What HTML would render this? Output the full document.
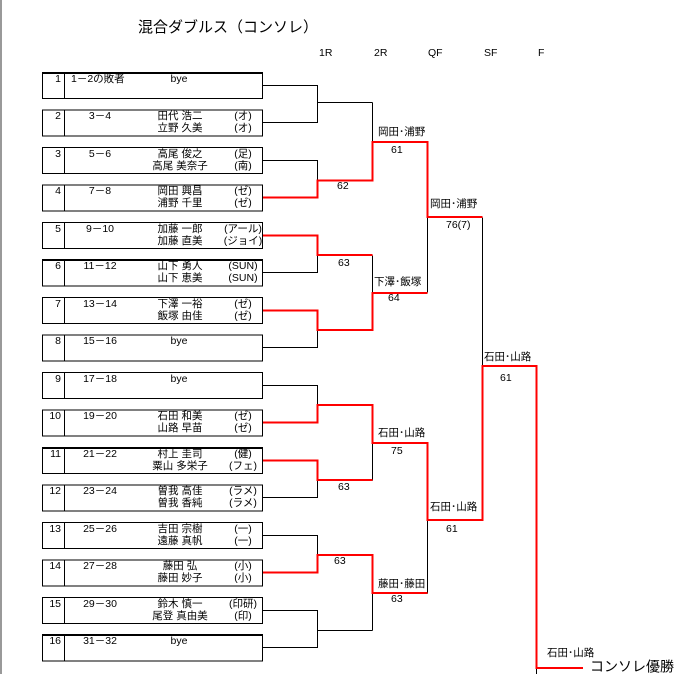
<!DOCTYPE html>
<html><head><meta charset="utf-8"><style>
html,body{margin:0;padding:0;background:#fff;}
svg{display:block;font-family:"Liberation Sans","Noto Sans CJK JP",sans-serif;}
text{font-size:10.5px;fill:#000;dominant-baseline:middle;}
.n{text-anchor:end}.m{text-anchor:middle}
</style></head><body>
<svg width="691" height="674" viewBox="0 0 691 674" xmlns="http://www.w3.org/2000/svg">
<rect x="0" y="0" width="2" height="674" fill="#999"/>
<text x="138" y="28" style="font-size:15px">混合ダブルス（コンソレ）</text>
<text x="319" y="53">1R</text><text x="374" y="53">2R</text><text x="428" y="53">QF</text><text x="484" y="53">SF</text><text x="538" y="53">F</text>

<g fill="none" stroke="#000" stroke-width="1">
<g id="boxes">
<rect x="42.5" y="72.5" width="220" height="26"/><line x1="64.5" y1="72.5" x2="64.5" y2="98.5"/>
<rect x="42.5" y="110" width="220" height="26"/><line x1="64.5" y1="110" x2="64.5" y2="136"/>
<rect x="42.5" y="147.5" width="220" height="26"/><line x1="64.5" y1="147.5" x2="64.5" y2="173.5"/>
<rect x="42.5" y="185" width="220" height="26"/><line x1="64.5" y1="185" x2="64.5" y2="211"/>
<rect x="42.5" y="222.5" width="220" height="26"/><line x1="64.5" y1="222.5" x2="64.5" y2="248.5"/>
<rect x="42.5" y="260" width="220" height="26"/><line x1="64.5" y1="260" x2="64.5" y2="286"/>
<rect x="42.5" y="297.5" width="220" height="26"/><line x1="64.5" y1="297.5" x2="64.5" y2="323.5"/>
<rect x="42.5" y="335" width="220" height="26"/><line x1="64.5" y1="335" x2="64.5" y2="361"/>
<rect x="42.5" y="372.5" width="220" height="26"/><line x1="64.5" y1="372.5" x2="64.5" y2="398.5"/>
<rect x="42.5" y="410" width="220" height="26"/><line x1="64.5" y1="410" x2="64.5" y2="436"/>
<rect x="42.5" y="447.5" width="220" height="26"/><line x1="64.5" y1="447.5" x2="64.5" y2="473.5"/>
<rect x="42.5" y="485" width="220" height="26"/><line x1="64.5" y1="485" x2="64.5" y2="511"/>
<rect x="42.5" y="522.5" width="220" height="26"/><line x1="64.5" y1="522.5" x2="64.5" y2="548.5"/>
<rect x="42.5" y="560" width="220" height="26"/><line x1="64.5" y1="560" x2="64.5" y2="586"/>
<rect x="42.5" y="597.5" width="220" height="26"/><line x1="64.5" y1="597.5" x2="64.5" y2="623.5"/>
<rect x="42.5" y="635" width="220" height="26"/><line x1="64.5" y1="635" x2="64.5" y2="661"/>
</g>
<g stroke-width="2"><line x1="42" y1="73" x2="263" y2="73"/><line x1="42" y1="260" x2="263" y2="260"/><line x1="42" y1="448" x2="263" y2="448"/><line x1="42" y1="635" x2="263" y2="635"/></g>
<polyline points="263,85.5 317.5,85.5 317.5,122.5 263,122.5"/>
<line x1="318" y1="102.5" x2="372.5" y2="102.5"/>
<polyline points="263,160.5 317.5,160.5 317.5,197.5"/>
<polyline points="317.5,235.5 317.5,272.5 263,272.5"/>
<polyline points="317.5,310.5 317.5,347.5 263,347.5"/>
<polyline points="372.5,102.5 372.5,180.5"/>
<polyline points="372.5,255.5 372.5,292.5"/>
<polyline points="427.5,217.5 427.5,292.5"/>
<polyline points="482.5,217.5 482.5,366.5"/>
<polyline points="263,385.5 317.5,385.5 317.5,422.5"/>
<polyline points="317.5,460.5 317.5,497.5 263,497.5"/>
<polyline points="372.5,443.5 372.5,480.5"/>
<polyline points="263,535.5 317.5,535.5 317.5,572.5"/>
<polyline points="263,610.5 317.5,610.5 317.5,647.5 263,647.5"/>
<line x1="318" y1="630.5" x2="372.5" y2="630.5"/>
<polyline points="372.5,593.5 372.5,630.5"/>
<polyline points="427.5,520.5 427.5,593.5"/>
<line x1="536.5" y1="668" x2="536.5" y2="674"/>
</g>
<g fill="none" stroke="#f00" stroke-width="2">
<polyline points="263,197.5 317.5,197.5 317.5,180.5 372.5,180.5 372.5,142 427.5,142 427.5,217 482.5,217"/>
<polyline points="263,235.5 317.5,235.5 317.5,255 372.5,255"/>
<polyline points="263,310.5 317.5,310.5 317.5,330 372.5,330 372.5,293 427.5,293"/>
<polyline points="263,422.5 317.5,422.5 317.5,405 372.5,405 372.5,443 427.5,443 427.5,520 482.5,520 482.5,366 536.5,366 536.5,668 583,668"/>
<polyline points="263,460.5 317.5,460.5 317.5,480 372.5,480"/>
<polyline points="263,572.5 317.5,572.5 317.5,555 372.5,555 372.5,593 427.5,593"/>
</g>

<g>
<text class="n" x="61" y="79">1</text><text x="71" y="79">1－2の敗者</text><text class="m" x="179" y="79">bye</text>
<text class="n" x="61" y="116">2</text><text class="m" x="100" y="116">3－4</text><text class="m" x="180" y="116">田代 浩二</text><text class="m" x="243" y="116">(オ)</text><text class="m" x="180" y="128">立野 久美</text><text class="m" x="243" y="128">(オ)</text>
<text class="n" x="61" y="154">3</text><text class="m" x="100" y="154">5－6</text><text class="m" x="180" y="154">高尾 俊之</text><text class="m" x="243" y="154">(足)</text><text class="m" x="180" y="166">高尾 美奈子</text><text class="m" x="243" y="166">(南)</text>
<text class="n" x="61" y="191">4</text><text class="m" x="100" y="191">7－8</text><text class="m" x="180" y="191">岡田 興昌</text><text class="m" x="243" y="191">(ゼ)</text><text class="m" x="180" y="203">浦野 千里</text><text class="m" x="243" y="203">(ゼ)</text>
<text class="n" x="61" y="229">5</text><text class="m" x="100" y="229">9－10</text><text class="m" x="180" y="229">加藤 一郎</text><text class="m" x="243" y="229">(アール)</text><text class="m" x="180" y="241">加藤 直美</text><text class="m" x="243" y="241">(ジョイ)</text>
<text class="n" x="61" y="266">6</text><text class="m" x="100" y="266">11－12</text><text class="m" x="180" y="266">山下 勇人</text><text class="m" x="243" y="266">(SUN)</text><text class="m" x="180" y="278">山下 恵美</text><text class="m" x="243" y="278">(SUN)</text>
<text class="n" x="61" y="304">7</text><text class="m" x="100" y="304">13－14</text><text class="m" x="180" y="304">下澤 一裕</text><text class="m" x="243" y="304">(ゼ)</text><text class="m" x="180" y="316">飯塚 由佳</text><text class="m" x="243" y="316">(ゼ)</text>
<text class="n" x="61" y="341">8</text><text class="m" x="100" y="341">15－16</text><text class="m" x="179" y="341">bye</text>
<text class="n" x="61" y="379">9</text><text class="m" x="100" y="379">17－18</text><text class="m" x="179" y="379">bye</text>
<text class="n" x="61" y="416">10</text><text class="m" x="100" y="416">19－20</text><text class="m" x="180" y="416">石田 和美</text><text class="m" x="243" y="416">(ゼ)</text><text class="m" x="180" y="428">山路 早苗</text><text class="m" x="243" y="428">(ゼ)</text>
<text class="n" x="61" y="454">11</text><text class="m" x="100" y="454">21－22</text><text class="m" x="180" y="454">村上 圭司</text><text class="m" x="243" y="454">(健)</text><text class="m" x="180" y="466">粟山 多栄子</text><text class="m" x="243" y="466">(フェ)</text>
<text class="n" x="61" y="491">12</text><text class="m" x="100" y="491">23－24</text><text class="m" x="180" y="491">曽我 高佳</text><text class="m" x="243" y="491">(ラメ)</text><text class="m" x="180" y="503">曽我 香純</text><text class="m" x="243" y="503">(ラメ)</text>
<text class="n" x="61" y="529">13</text><text class="m" x="100" y="529">25－26</text><text class="m" x="180" y="529">吉田 宗樹</text><text class="m" x="243" y="529">(一)</text><text class="m" x="180" y="541">遠藤 真帆</text><text class="m" x="243" y="541">(一)</text>
<text class="n" x="61" y="566">14</text><text class="m" x="100" y="566">27－28</text><text class="m" x="180" y="566">藤田 弘</text><text class="m" x="243" y="566">(小)</text><text class="m" x="180" y="578">藤田 妙子</text><text class="m" x="243" y="578">(小)</text>
<text class="n" x="61" y="604">15</text><text class="m" x="100" y="604">29－30</text><text class="m" x="180" y="604">鈴木 慎一</text><text class="m" x="243" y="604">(印研)</text><text class="m" x="180" y="616">尾登 真由美</text><text class="m" x="243" y="616">(印)</text>
<text class="n" x="61" y="641">16</text><text class="m" x="100" y="641">31－32</text><text class="m" x="179" y="641">bye</text>
</g>
<g>
<text x="378" y="132">岡田･浦野</text><text x="391" y="150">61</text>
<text x="337" y="186">62</text>
<text x="338" y="263">63</text>
<text x="374" y="282">下澤･飯塚</text><text x="388" y="298">64</text>
<text x="430" y="204">岡田･浦野</text><text x="446" y="225">76(7)</text>
<text x="484" y="357">石田･山路</text><text x="500" y="378">61</text>
<text x="378" y="433">石田･山路</text><text x="391" y="451">75</text>
<text x="338" y="487">63</text>
<text x="430" y="507">石田･山路</text><text x="446" y="529">61</text>
<text x="334" y="561">63</text>
<text x="378" y="584">藤田･藤田</text><text x="391" y="599">63</text>
<text x="547" y="653">石田･山路</text>
<text x="590" y="668" style="font-size:14px">コンソレ優勝</text>
</g>
</svg>
</body></html>
